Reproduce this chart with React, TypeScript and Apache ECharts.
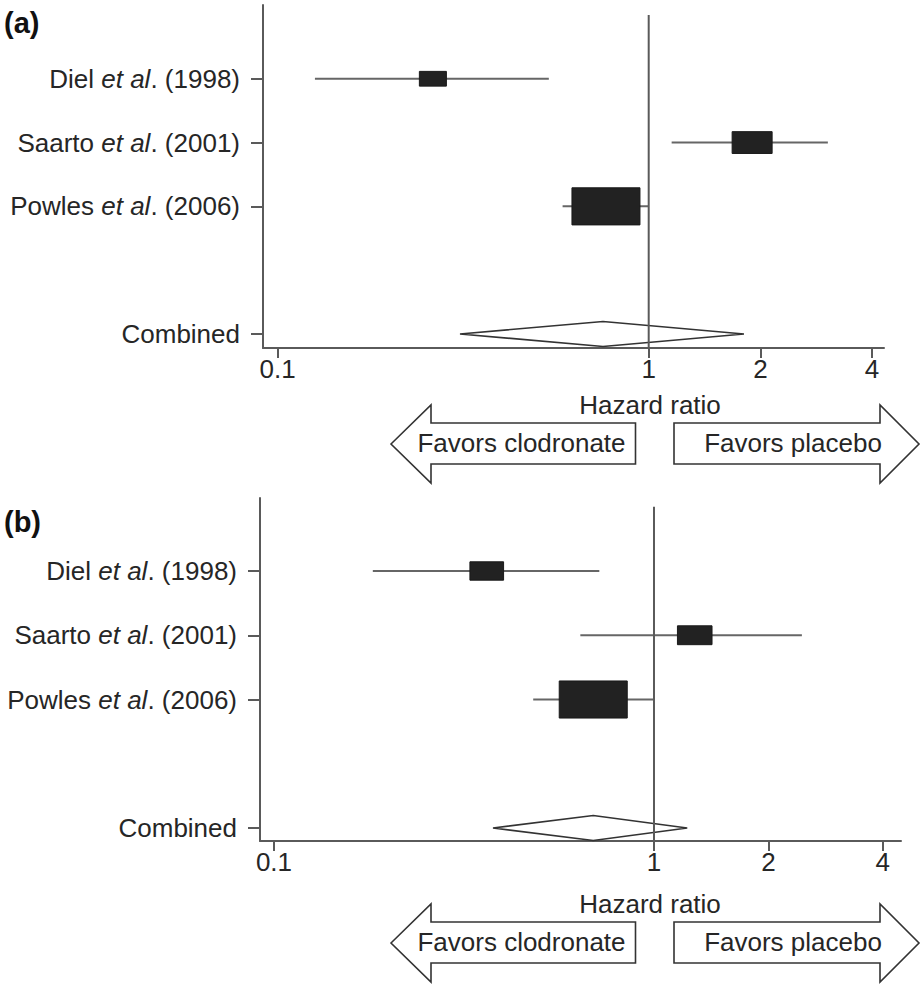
import React, { useEffect, useRef } from "react";
import * as echarts from "echarts";

// ---------- data ----------
const authors = ["Diel", "Saarto", "Powles"];
const years = ["1998", "2001", "2006"];
const studyRows = [5, 4, 3];
const combinedRow = 1;
const combinedLabel = "Combined";

// panel (a)
const hrA = [0.262, 1.9, 0.767];
const loA = [0.126, 1.153, 0.586];
const hiA = [0.538, 3.04, 1.0];
const weightA = [10.5, 23.0, 66.5];
const combinedA = [0.753, 0.31, 1.806]; // estimate, low, high

// panel (b)
const hrB = [0.363, 1.28, 0.692];
const loB = [0.182, 0.64, 0.481];
const hiB = [0.718, 2.45, 1.0];
const weightB = [16.3, 17.2, 66.5];
const combinedB = [0.692, 0.377, 1.223];

const xTickValues = [0.1, 1, 2, 4];
const xTickLabels = ["0.1", "1", "2", "4"];
const refValue = 1;
const xTitle = "Hazard ratio";
const leftArrowText = "Favors clodronate";
const rightArrowText = "Favors placebo";

// ---------- styles ----------
const FONT = "Liberation Sans";
const TXT = "#262626";
const LINE = "#5a5a5a";
const FS = 26;
const BOX_KX = 8.34;
const BOX_KY = 4.55;
const DIAMOND_H = 12.5;
const REF_TOP = 6.0;

const lg = (v: number) => Math.log10(v);

type Panel = {
  hr: number[];
  lo: number[];
  hi: number[];
  w: number[];
  comb: number[];
  grid: { left: number; top: number; width: number; height: number };
  xMin: number;
  xMax: number;
  yMin: number;
  yMax: number;
};

const panels: Panel[] = [
  {
    hr: hrA, lo: loA, hi: hiA, w: weightA, comb: combinedA,
    grid: { left: 263, top: 5, width: 621, height: 343 },
    xMin: -1.0396, xMax: 0.6342, yMin: 0.78, yMax: 6.156,
  },
  {
    hr: hrB, lo: loB, hi: hiB, w: weightB, comb: combinedB,
    grid: { left: 260, top: 498, width: 641, height: 343 },
    xMin: -1.0368, xMax: 0.65, yMin: 0.798, yMax: 6.136,
  },
];

const yLabelFor = (v: number) => {
  if (Math.abs(v - combinedRow) < 1e-6) return `{n|${combinedLabel}}`;
  const i = studyRows.findIndex((r) => Math.abs(r - v) < 1e-6);
  if (i < 0) return "";
  return `{n|${authors[i]} }{i|et al}{n|. (${years[i]})}`;
};

const xTickLog = xTickValues.map(lg);
const xLabelFor = (v: number) => {
  const i = xTickLog.findIndex((t) => Math.abs(t - v) < 1e-6);
  return i >= 0 ? xTickLabels[i] : "";
};

function buildOption() {
  const grids: any[] = [];
  const xAxes: any[] = [];
  const yAxes: any[] = [];
  const series: any[] = [];

  panels.forEach((p, k) => {
    grids.push({ ...p.grid, containLabel: false });
    xAxes.push({
      type: "value",
      gridIndex: k,
      min: p.xMin,
      max: p.xMax,
      splitLine: { show: false },
      axisLine: { show: true, onZero: false, lineStyle: { color: LINE, width: 2 } },
      axisTick: { show: true, length: 10, customValues: xTickLog, lineStyle: { color: LINE, width: 2 } },
      axisLabel: {
        show: true,
        customValues: xTickLog,
        formatter: (v: number) => xLabelFor(v),
        margin: 8,
        fontFamily: FONT,
        fontSize: FS,
        color: TXT,
      },
    });
    yAxes.push({
      type: "value",
      gridIndex: k,
      min: p.yMin,
      max: p.yMax,
      splitLine: { show: false },
      axisLine: { show: true, onZero: false, lineStyle: { color: LINE, width: 2 } },
      axisTick: {
        show: true,
        length: 12,
        customValues: [...studyRows, combinedRow],
        lineStyle: { color: LINE, width: 2 },
      },
      axisLabel: {
        show: true,
        customValues: [...studyRows, combinedRow],
        formatter: (v: number) => yLabelFor(v),
        margin: 23,
        rich: {
          n: { fontFamily: FONT, fontSize: FS, color: TXT },
          i: { fontFamily: FONT, fontSize: FS, color: TXT, fontStyle: "italic" },
        },
      },
    });

    // study estimates
    series.push({
      type: "custom",
      xAxisIndex: k,
      yAxisIndex: k,
      encode: { x: [0, 1, 2], y: 3 },
      data: p.hr.map((h, i) => [lg(h), lg(p.lo[i]), lg(p.hi[i]), studyRows[i], p.w[i]]),
      renderItem: (params: any, api: any) => {
        const est = api.value(0);
        const lo = api.value(1);
        const hi = api.value(2);
        const row = api.value(3);
        const w = api.value(4);
        const c = api.coord([est, row]);
        const l = api.coord([lo, row]);
        const r = api.coord([hi, row]);
        const bw = BOX_KX * Math.sqrt(w);
        const bh = BOX_KY * Math.sqrt(w);
        return {
          type: "group",
          children: [
            {
              type: "line",
              shape: { x1: l[0], y1: l[1], x2: r[0], y2: r[1] },
              style: { stroke: "#666", lineWidth: 2 },
            },
            {
              type: "rect",
              shape: { x: c[0] - bw / 2, y: c[1] - bh / 2, width: bw, height: bh },
              style: { fill: "#222", stroke: "#1a1a1a", lineWidth: 1 },
            },
          ],
        };
      },
      z: 3,
    });

    // combined diamond
    series.push({
      type: "custom",
      xAxisIndex: k,
      yAxisIndex: k,
      encode: { x: [0, 1, 2], y: 3 },
      data: [[lg(p.comb[0]), lg(p.comb[1]), lg(p.comb[2]), combinedRow]],
      renderItem: (params: any, api: any) => {
        const row = api.value(3);
        const c = api.coord([api.value(0), row]);
        const l = api.coord([api.value(1), row]);
        const r = api.coord([api.value(2), row]);
        return {
          type: "polygon",
          shape: {
            points: [
              [l[0], l[1]],
              [c[0], c[1] - DIAMOND_H],
              [r[0], r[1]],
              [c[0], c[1] + DIAMOND_H],
            ],
          },
          style: { fill: "rgba(255,255,255,0)", stroke: "#333", lineWidth: 1.6 },
        };
      },
      z: 2,
    });

    // reference line at HR = 1
    series.push({
      type: "line",
      xAxisIndex: k,
      yAxisIndex: k,
      data: [
        [lg(refValue), p.yMin],
        [lg(refValue), REF_TOP],
      ],
      symbol: "none",
      lineStyle: { color: LINE, width: 2 },
      z: 4,
      silent: true,
    });
  });

  const graphic: any[] = [];
  const panelLabels = ["(a)", "(b)"];
  const offsets = [0, 499];
  panelLabels.forEach((t, k) => {
    const dy = offsets[k];
    graphic.push({
      type: "text",
      left: 4,
      top: 8 + dy,
      style: { text: t, font: `bold 29px "${FONT}"`, fill: "#111" },
    });
    graphic.push({
      type: "text",
      x: 650,
      y: 405 + dy,
      style: {
        text: xTitle,
        font: `${FS}px "${FONT}"`,
        fill: TXT,
        textAlign: "center",
        textVerticalAlign: "middle",
      },
    });
    graphic.push({
      type: "polygon",
      shape: {
        points: [
          [391, 444 + dy],
          [431, 405 + dy],
          [431, 423 + dy],
          [635.5, 423 + dy],
          [635.5, 464 + dy],
          [431, 464 + dy],
          [431, 483 + dy],
        ],
      },
      style: { fill: "#fff", stroke: "#333", lineWidth: 1.6 },
    });
    graphic.push({
      type: "polygon",
      shape: {
        points: [
          [674, 423 + dy],
          [880, 423 + dy],
          [880, 405 + dy],
          [919, 444 + dy],
          [880, 483 + dy],
          [880, 464 + dy],
          [674, 464 + dy],
        ],
      },
      style: { fill: "#fff", stroke: "#333", lineWidth: 1.6 },
    });
    graphic.push({
      type: "text",
      x: 521.5,
      y: 443 + dy,
      z: 10,
      style: {
        text: leftArrowText,
        font: `${FS}px "${FONT}"`,
        fill: TXT,
        textAlign: "center",
        textVerticalAlign: "middle",
      },
    });
    graphic.push({
      type: "text",
      x: 793,
      y: 443 + dy,
      z: 10,
      style: {
        text: rightArrowText,
        font: `${FS}px "${FONT}"`,
        fill: TXT,
        textAlign: "center",
        textVerticalAlign: "middle",
      },
    });
  });

  return {
    animation: false,
    backgroundColor: "#fff",
    grid: grids,
    xAxis: xAxes,
    yAxis: yAxes,
    series,
    graphic,
  };
}

export default function App() {
  const ref = useRef<HTMLDivElement>(null);
  useEffect(() => {
    if (!ref.current) return;
    const chart = echarts.init(ref.current, undefined, { renderer: "svg" });
    chart.setOption(buildOption() as any);
    return () => chart.dispose();
  }, []);
  return (
    <div
      ref={ref}
      style={{ position: "absolute", left: 0, top: 0, width: 922, height: 984, background: "#fff" }}
    />
  );
}
